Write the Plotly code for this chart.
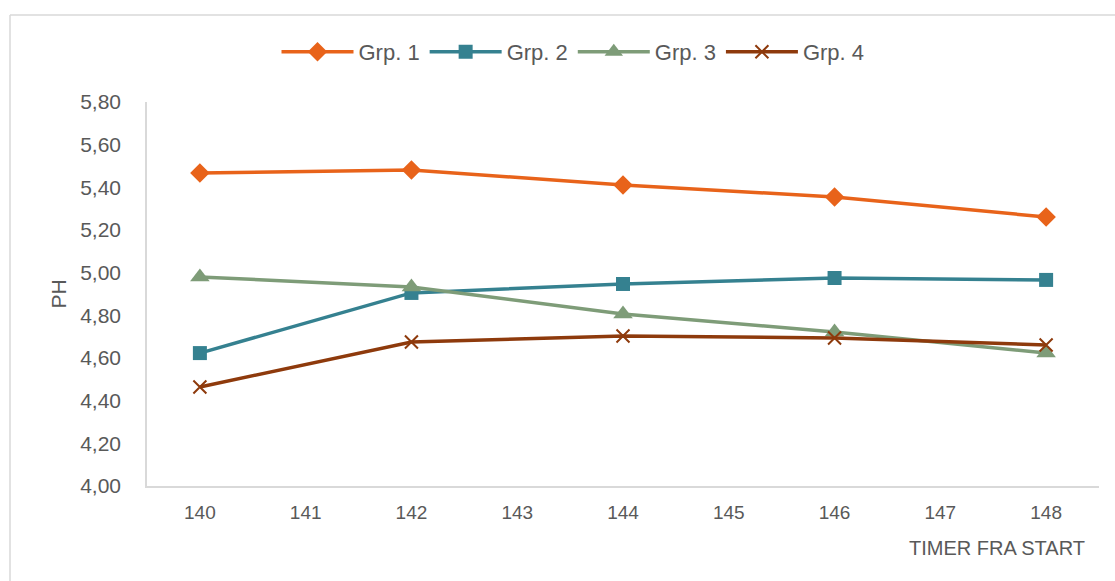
import plotly.graph_objects as go

hours = [140, 142, 144, 146, 148]
grp1 = [5.467, 5.481, 5.411, 5.355, 5.261]
grp2 = [4.623, 4.905, 4.947, 4.975, 4.966]
grp3 = [4.980, 4.933, 4.806, 4.722, 4.623]
grp4 = [4.464, 4.675, 4.703, 4.694, 4.661]
x_ticks = [140, 141, 142, 143, 144, 145, 146, 147, 148]
y_ticks = [4.0, 4.2, 4.4, 4.6, 4.8, 5.0, 5.2, 5.4, 5.6, 5.8]

series = [
    ("Grp. 1", grp1, "#E8631A", "diamond", 15),
    ("Grp. 2", grp2, "#358190", "square", 14),
    ("Grp. 3", grp3, "#7E9C78", "triangle-up", 17),
    ("Grp. 4", grp4, "#8E3A0C", "x-thin", 13),
]

fig = go.Figure()
for name, vals, color, sym, size in series:
    fig.add_trace(go.Scatter(
        x=hours, y=vals, name=name, mode="lines+markers",
        line=dict(color=color, width=3.5),
        marker=dict(symbol=sym, size=size, color=color,
                    line=dict(color=color, width=2 if sym == "x-thin" else 0)),
    ))

L, R, T, B = 147, 16, 102, 95
W, H = 1115, 581
pw, ph = W - L - R, H - T - B

def px_x(p):
    return (p - L) / pw

def px_y(p):
    return (H - B - p) / ph

fig.update_layout(
    width=W, height=H,
    margin=dict(l=L, r=R, t=T, b=B),
    paper_bgcolor="white", plot_bgcolor="white",
    separators=", ",
    font=dict(family="Liberation Sans, Arial, sans-serif", color="#595959", size=18),
    showlegend=True,
    legend=dict(orientation="h", x=px_x(573), xanchor="center", y=px_y(52), yanchor="middle",
                font=dict(size=22, color="#595959"), itemwidth=72,
                tracegroupgap=0),
    xaxis=dict(range=[139.5, 148.5], tickvals=x_ticks, ticktext=[str(v) for v in x_ticks],
               showgrid=False, zeroline=False, showline=True, linecolor="#D9D9D9",
               linewidth=1.5, ticks="", ticklabelstandoff=8,
               tickfont=dict(size=19, color="#595959")),
    yaxis=dict(range=[4.0, 5.8], tickvals=y_ticks, tickformat=".2f",
               showgrid=False, zeroline=False, showline=True, linecolor="#D9D9D9",
               linewidth=1.5, ticks="", ticklabelstandoff=20,
               tickfont=dict(size=21, color="#595959"),
               title=dict(text="PH", font=dict(size=21, color="#595959"), standoff=8)),
    annotations=[dict(text="TIMER FRA START", xref="paper", yref="paper",
                      x=px_x(907), y=px_y(548), xanchor="left", yanchor="middle",
                      showarrow=False, font=dict(size=20, color="#595959"))],
    shapes=[
        dict(type="line", xref="paper", yref="paper", x0=px_x(10), x1=px_x(1115),
             y0=px_y(15), y1=px_y(15), line=dict(color="#D9D9D9", width=1.5)),
        dict(type="line", xref="paper", yref="paper", x0=px_x(10), x1=px_x(10),
             y0=px_y(15), y1=px_y(581), line=dict(color="#D9D9D9", width=1.5)),
    ],
)

fig.write_html("out.html", config={"displayModeBar": False},
               post_script="document.body.style.margin='0';document.body.style.overflow='hidden';")
